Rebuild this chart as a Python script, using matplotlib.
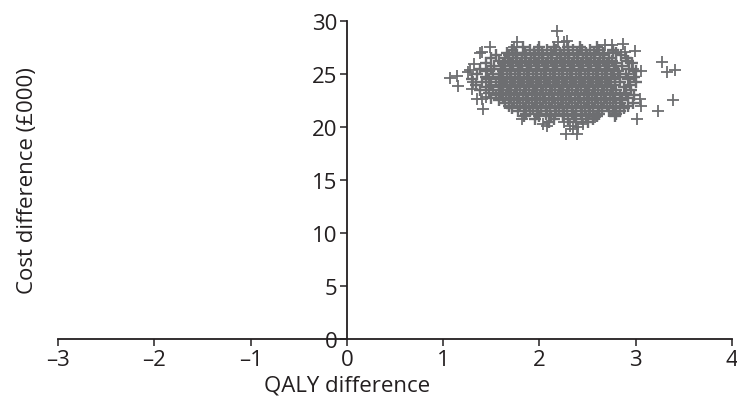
import numpy as np
import matplotlib
matplotlib.use("Agg")
import matplotlib.pyplot as plt

# ----- datos (QALY difference, cost difference en £000) -----
# núcleo denso de la nube: (coste, [diferencias de QALY]) por filas
core_rows = [
    (27.5, [1.83, 2.00, 2.15, 2.30, 2.42, 2.60]),
    (27.25, [1.72, 1.90, 1.99, 2.08, 2.17, 2.26, 2.35, 2.44, 2.53, 2.62, 2.76]),
    (27.0, [1.66, 1.76, 1.85, 1.94, 2.03, 2.12, 2.21, 2.30, 2.39, 2.48, 2.57, 2.66, 2.80]),
    (26.75, [1.55, 1.68, 1.77, 1.86, 1.95, 2.04, 2.13, 2.22, 2.31, 2.40, 2.49, 2.58, 2.67, 2.85]),
    (26.5, [1.50, 1.64, 1.73, 1.82, 1.91, 2.00, 2.09, 2.18, 2.27, 2.36, 2.45, 2.54, 2.63, 2.72, 2.90]),
    (26.25, [1.58, 1.67, 1.76, 1.85, 1.94, 2.03, 2.12, 2.21, 2.30, 2.39, 2.48, 2.57, 2.66, 2.75, 2.92]),
    (26.0, [1.44, 1.62, 1.71, 1.80, 1.89, 1.98, 2.07, 2.16, 2.25, 2.34, 2.43, 2.52, 2.61, 2.70, 2.80, 2.96]),
    (25.75, [1.53, 1.64, 1.73, 1.82, 1.91, 2.00, 2.09, 2.18, 2.27, 2.36, 2.45, 2.54, 2.63, 2.72, 2.86]),
    (25.5, [1.38, 1.50, 1.60, 1.69, 1.78, 1.87, 1.96, 2.05, 2.14, 2.23, 2.32, 2.41, 2.50, 2.59, 2.68, 2.77, 2.93]),
    (25.25, [1.46, 1.62, 1.71, 1.80, 1.89, 1.98, 2.07, 2.16, 2.25, 2.34, 2.43, 2.52, 2.61, 2.70, 2.82, 3.00]),
    (25.0, [1.35, 1.52, 1.60, 1.69, 1.78, 1.87, 1.96, 2.05, 2.14, 2.23, 2.32, 2.41, 2.50, 2.59, 2.68, 2.76, 2.90]),
    (24.75, [1.44, 1.58, 1.66, 1.75, 1.84, 1.93, 2.02, 2.11, 2.20, 2.29, 2.38, 2.47, 2.56, 2.65, 2.74, 2.84, 2.98]),
    (24.5, [1.30, 1.48, 1.60, 1.69, 1.78, 1.87, 1.96, 2.05, 2.14, 2.23, 2.32, 2.41, 2.50, 2.59, 2.68, 2.78, 2.92]),
    (24.25, [1.40, 1.55, 1.64, 1.73, 1.82, 1.91, 2.00, 2.09, 2.18, 2.27, 2.36, 2.45, 2.54, 2.63, 2.72, 2.84, 3.00]),
    (24.0, [1.34, 1.50, 1.62, 1.71, 1.80, 1.89, 1.98, 2.07, 2.16, 2.25, 2.34, 2.43, 2.52, 2.61, 2.70, 2.79, 2.94]),
    (23.75, [1.45, 1.58, 1.66, 1.75, 1.84, 1.93, 2.02, 2.11, 2.20, 2.29, 2.38, 2.47, 2.56, 2.65, 2.74, 2.88]),
    (23.5, [1.38, 1.52, 1.62, 1.71, 1.80, 1.89, 1.98, 2.07, 2.16, 2.25, 2.34, 2.43, 2.52, 2.61, 2.70, 2.80, 2.95]),
    (23.25, [1.48, 1.60, 1.68, 1.77, 1.86, 1.95, 2.04, 2.13, 2.22, 2.31, 2.40, 2.49, 2.58, 2.67, 2.76, 2.90]),
    (23.0, [1.55, 1.65, 1.74, 1.83, 1.92, 2.01, 2.10, 2.19, 2.28, 2.37, 2.46, 2.55, 2.64, 2.73, 2.84, 2.98]),
    (22.75, [1.50, 1.62, 1.70, 1.79, 1.88, 1.97, 2.06, 2.15, 2.24, 2.33, 2.42, 2.51, 2.60, 2.69, 2.78, 2.92]),
    (22.5, [1.58, 1.68, 1.77, 1.86, 1.95, 2.04, 2.13, 2.22, 2.31, 2.40, 2.49, 2.58, 2.67, 2.76, 2.86]),
    (22.25, [1.64, 1.74, 1.83, 1.92, 2.01, 2.10, 2.19, 2.28, 2.37, 2.46, 2.55, 2.64, 2.73, 2.84, 2.97]),
    (22.0, [1.68, 1.80, 1.89, 1.98, 2.07, 2.16, 2.25, 2.34, 2.43, 2.52, 2.61, 2.70, 2.80, 2.92]),
    (21.75, [1.72, 1.84, 1.93, 2.02, 2.11, 2.20, 2.29, 2.38, 2.47, 2.56, 2.65, 2.76, 2.88]),
    (21.5, [1.78, 1.90, 1.99, 2.08, 2.17, 2.26, 2.35, 2.44, 2.53, 2.62, 2.72, 2.84]),
    (21.25, [1.86, 1.98, 2.07, 2.16, 2.25, 2.34, 2.43, 2.52, 2.62, 2.80]),
    (21.0, [1.84, 2.00, 2.12, 2.24, 2.36, 2.48, 2.60, 2.78]),
    (20.75, [1.95, 2.15, 2.30, 2.44, 2.56]),
    (20.5, [2.10, 2.38, 2.50]),
]

# puntos sueltos alrededor de la nube
outlier_qaly = [1.49, 1.40, 1.38, 1.32, 1.28, 1.26, 1.07, 1.14, 1.15, 1.31, 1.30,
                1.35, 1.40, 1.45, 1.41, 1.77, 1.74, 2.18, 2.19, 2.26, 2.29,
                1.82, 2.04, 2.08, 2.26, 2.32, 2.35, 2.40, 2.45, 2.28, 2.39,
                2.68, 2.75, 2.76, 2.87, 2.89, 2.99, 2.97, 3.06, 3.27, 3.32,
                3.41, 3.04, 3.06, 3.01, 3.23, 3.39, 2.78, 2.58]
outlier_cost = [27.5, 27.1, 27.0, 25.9, 25.4, 25.2, 24.6, 24.8, 23.9, 24.2, 23.6,
                22.6, 22.6, 22.8, 21.7, 28.0, 27.5, 29.1, 28.0, 28.05, 28.15,
                20.75, 20.3, 20.1, 20.5, 20.1, 19.8, 20.0, 20.3, 19.3, 19.3,
                27.7, 27.7, 27.2, 27.8, 27.1, 27.2, 25.5, 25.3, 26.1, 25.2,
                25.4, 22.6, 22.0, 20.75, 21.5, 22.5, 21.4, 20.9]

x_ticks = [-3, -2, -1, 0, 1, 2, 3, 4]
y_ticks = [0, 5, 10, 15, 20, 25, 30]

core_qaly = np.array([x for c, xs in core_rows for x in xs])
core_cost = np.array([c for c, xs in core_rows for x in xs])

plt.rcParams["font.family"] = ["Open Sans", "DejaVu Sans"]
ink = "#231f20"
grey = "#6d6e71"

fig = plt.figure(figsize=(7.37, 4.06), dpi=100)
ax = fig.add_axes([0.0787, 0.1626, 0.9145, 0.7833])

ax.plot(core_qaly, core_cost, linestyle="none", marker="+", markersize=8,
        markeredgewidth=1.7, color=grey)
ax.plot(outlier_qaly, outlier_cost, linestyle="none", marker="+", markersize=8,
        markeredgewidth=1.3, color=grey)

ax.set_xlim(-3, 4)
ax.set_ylim(0, 30)
ax.spines["left"].set_position(("data", 0))
ax.spines["right"].set_visible(False)
ax.spines["top"].set_visible(False)
for s in ("left", "bottom"):
    ax.spines[s].set_linewidth(1.3)
    ax.spines[s].set_color(ink)

ax.set_xticks(x_ticks)
ax.set_xticklabels([f"{t}".replace("-", "\u2013") for t in x_ticks])
ax.set_yticks(y_ticks)
ax.tick_params(direction="out", length=5, width=1.1, color=ink,
               labelsize=16, labelcolor=ink, pad=2)

ax.set_xlabel("QALY difference", fontsize=16, color=ink)
ax.xaxis.set_label_coords(0.429, -0.113)
ax.xaxis.label.set_va("top")
ax.set_ylabel("Cost difference (£000)", fontsize=16, color=ink)
ax.yaxis.set_label_coords(-0.045, 0.5)
ax.yaxis.label.set_va("center")

fig.savefig("out.png", dpi=100)
